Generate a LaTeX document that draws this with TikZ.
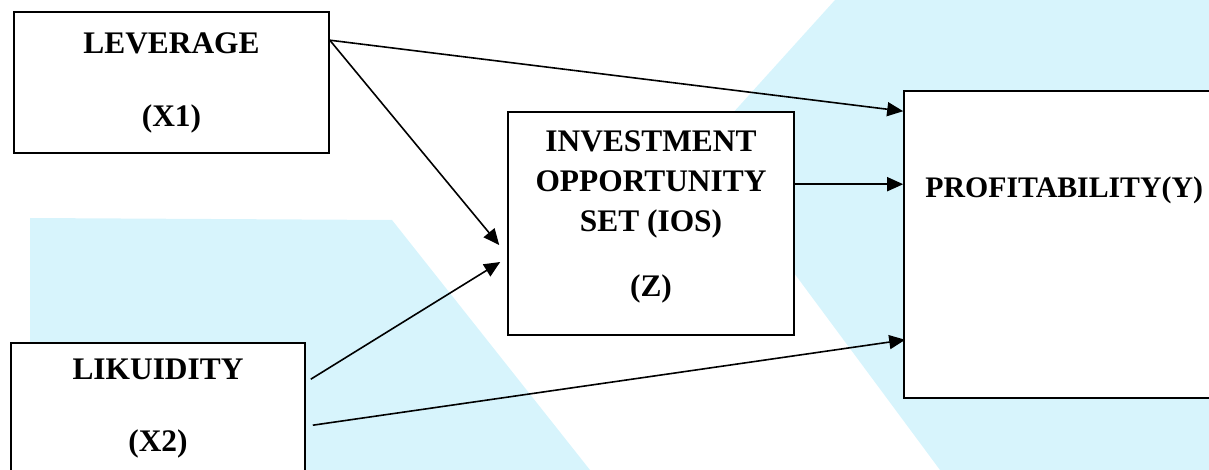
\documentclass[tikz,border=0pt]{standalone}
\usepackage{fontspec}
\setmainfont{Liberation Serif}
\usetikzlibrary{arrows.meta,calc}
\definecolor{wash}{HTML}{D7F4FC}

\begin{document}
\begin{tikzpicture}[x=0.5pt,y=-0.5pt,>={Triangle[length=8pt,width=7pt]},
  font=\fontsize{15.7}{20}\selectfont\bfseries,
  box/.style={draw,line width=.8pt,fill=white,inner sep=0pt,align=center},
  link/.style={->,line width=.8pt}]
  \useasboundingbox (0,0) rectangle (1209,470);
  \clip (0,0) rectangle (1209,470);
  % watermark in the background
  \fill[wash] (30,218) -- (392,220) -- (590,470) -- (30,470) -- cycle;
  \fill[wash] (835,0) -- (722,125) .. controls (708,140) and (706,152) .. (714,165) -- (940,470) -- (1209,470) -- (1209,0) -- cycle;
  % boxes
  \node[box,minimum width=157.5pt,minimum height=70.5pt] (lev) at (171.5,82.5) {LEVERAGE\\[16.5pt](X1)};
  \node[box,minimum width=147pt,minimum height=66pt] (liq) at (158,409) {LIKUIDITY\\[16pt](X2)};
  \node[box,minimum width=143pt,minimum height=111.5pt,text depth=9.5pt] (ios) at (651,223.5) {INVESTMENT\\OPPORTUNITY\\SET (IOS)\\[12.5pt](Z)};
  \node[box,minimum width=158pt,minimum height=153.5pt] (prof) at (1062,244.5) {};
  \node[anchor=west,inner sep=0pt,font=\fontsize{14.9}{18}\selectfont\bfseries] (proftext) at (925,190) {PROFITABILITY(Y)};
  % arrows
  \draw[link] ($(lev.north east)+(0,29)$) -- ($(prof.north west)+(0,21)$);
  \draw[link] ($(lev.north east)+(0,29)$) -- ($(ios.west)+(-8,21.5)$);
  \draw[link] ($(liq.north east)+(5,37)$) -- ($(ios.west)+(-7,38.5)$);
  \draw[link] ($(liq.north east)+(7,83)$) -- ($(prof.south west)+(2,-59)$);
  \draw[link] ($(ios.north east)+(0,73)$) -- ($(prof.north west)+(0,94)$);
\end{tikzpicture}
\end{document}
